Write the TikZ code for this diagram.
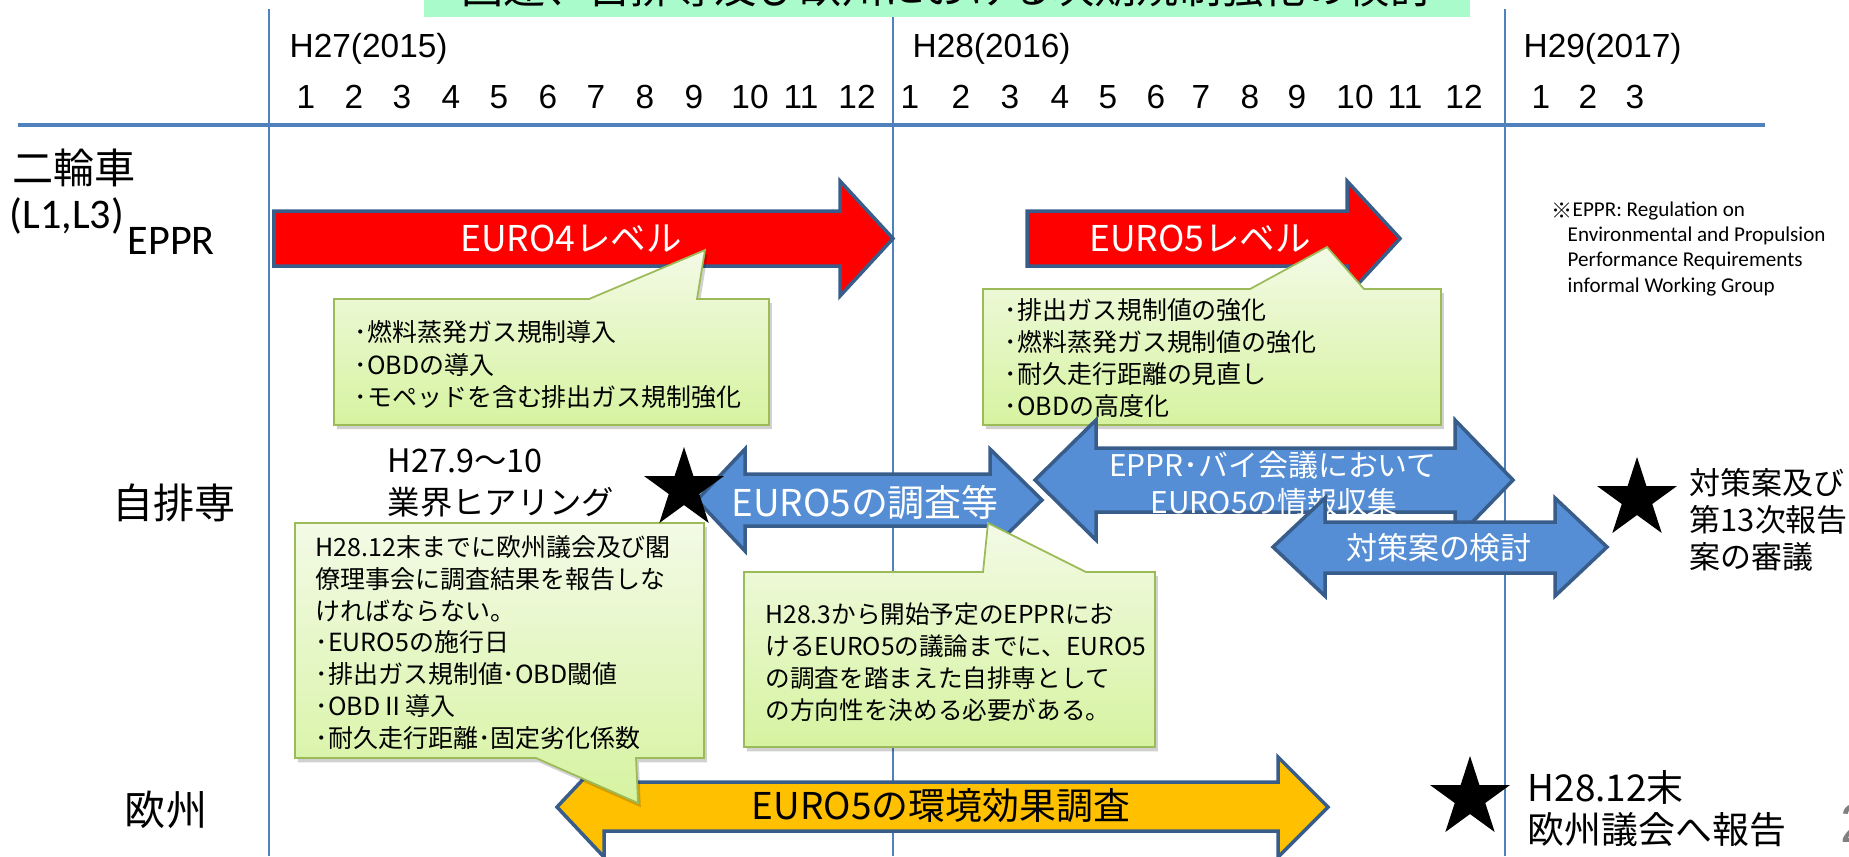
\documentclass[tikz,border=0pt]{standalone}
\usepackage{fontspec}
\setmainfont{Noto Sans CJK JP}
\newfontfamily\arialfont{Liberation Sans}
\newfontfamily\calibrifont{Carlito}
\usetikzlibrary{shapes.geometric,shadows}

\newcommand\fsz[1]{\fontsize{#1}{#1}\selectfont}

\definecolor{gridblue}{RGB}{79,129,189}
\definecolor{bannergreen}{RGB}{169,251,203}
\definecolor{arrowedge}{RGB}{56,93,138}
\definecolor{barblue}{RGB}{85,142,213}
\definecolor{barorange}{RGB}{255,192,0}
\definecolor{speechedge}{RGB}{155,187,89}
\definecolor{speechtop}{RGB}{243,250,230}
\definecolor{speechbottom}{RGB}{214,243,160}

\tikzset{
  gridline/.style={draw=gridblue, line width=0.45pt},
  ruleline/.style={draw=gridblue, line width=1pt},
  block/.style={draw=arrowedge, line width=1pt, line join=miter},
  redbar/.style={block, fill=red},
  bluebar/.style={block, fill=barblue},
  orangebar/.style={block, fill=barorange},
  speech/.style={draw=speechedge, line width=0.5pt, line join=miter,
    top color=speechtop, bottom color=speechbottom,
    drop shadow={shadow xshift=0.8pt, shadow yshift=-1.2pt, fill=black, opacity=0.18}},
  hdr/.style={font=\arialfont\fsz{9.5}, inner sep=0pt},
  rowlabel/.style={font=\fsz{11.7}, inner sep=0pt},
  catfont/.style={font=\calibrifont\fsz{12}, inner sep=0pt, anchor=base west},
  bartext/.style={text=white, inner sep=0pt},
  memo/.style={font=\fsz{7.1}, inner sep=0pt, anchor=west},
  sidetext/.style={inner sep=0pt, anchor=west},
  mark star/.style={star, star points=5, star point ratio=2.62, fill=black,
    inner sep=0pt, minimum size=0.84cm}
}

\begin{document}
\begin{tikzpicture}[x=0.01cm, y=-0.01cm]
\useasboundingbox (0,0) rectangle (1849,856);
\clip (0,0) rectangle (1849,856);

% time grid
\foreach \x in {269,893,1505}
  \draw [gridline] (\x,9) -- (\x,856);
\draw [ruleline] (18,125) -- (1765,125);

% title banner (cut at the top)
\fill [bannergreen] (424,-20) rectangle (1470,17);
\node [font=\fsz{12}, anchor=base] (title) at (947,3) {国連、自排専及び欧州における次期規制強化の検討};

% years and months
\node [hdr, anchor=base west] (y15) at (289,57) {H27(2015)};
\node [hdr, anchor=base west] (y16) at (912,57) {H28(2016)};
\node [hdr, anchor=base west] (y17) at (1523,57) {H29(2017)};
\foreach \x [count=\m] in {306,354,402,451,499,548,596,645,694,750,801,857}
  \node [hdr, anchor=base] (m15-\m) at (\x,108) {\m};
\foreach \x [count=\m] in {910,961,1010,1060,1108,1156,1201,1250,1297,1355,1405,1464}
  \node [hdr, anchor=base] (m16-\m) at (\x,108) {\m};
\foreach \x [count=\m] in {1541,1588,1635}
  \node [hdr, anchor=base] (m17-\m) at (\x,108) {\m};

% rows
\node [rowlabel] (bike) at (74,168) {二輪車};
\node [catfont] (cls) at (9,228) {(L1,L3)};
\node [catfont] (eppr) at (127,254) {EPPR};
\node [rowlabel] (jiko) at (174,503) {自排専};
\node [rowlabel] (eu) at (166,810) {欧州};

% note
\node [sidetext, font=\fsz{6}] (note0) at (1551,211) {※};
\node [sidetext, font=\calibrifont\fsz{6}] (note1) at (1572,211) {EPPR: Regulation on};
\node [sidetext, font=\calibrifont\fsz{6}] (note2) at (1567,236) {Environmental and Propulsion};
\node [sidetext, font=\calibrifont\fsz{6}] (note3) at (1567,261) {Performance Requirements};
\node [sidetext, font=\calibrifont\fsz{6}] (note4) at (1567,287) {informal Working Group};

% EPPR levels
\draw [redbar] (274,211) -- (840,211) -- (840,181) -- (893,238.5) -- (840,296) -- (840,266) -- (274,266) -- cycle;
\node [bartext, font=\fsz{10.1}] (euro4) at (571,238.5) {EURO4レベル};
\draw [redbar] (1027,211) -- (1347,211) -- (1347,181) -- (1400,238.5) -- (1347,296) -- (1347,266) -- (1027,266) -- cycle;
\node [bartext, font=\fsz{10.1}] (euro5) at (1200,238.5) {EURO5レベル};

\draw [speech] (334,299) -- (589,299) -- (705,250) -- (697,299) -- (769,299) -- (769,425) -- (334,425) -- cycle;
\foreach \t [count=\i] in {･燃料蒸発ガス規制導入,･OBDの導入,･モペッドを含む排出ガス規制強化}
  \node [memo] (e4note-\i) at (354,{332+32.5*(\i-1)}) {\t};
\draw [speech] (983,289) -- (1250,289) -- (1327,247) -- (1364,289) -- (1441,289) -- (1441,425) -- (983,425) -- cycle;
\foreach \t [count=\i] in {･排出ガス規制値の強化,･燃料蒸発ガス規制値の強化,･耐久走行距離の見直し,･OBDの高度化}
  \node [memo] (e5note-\i) at (1004,{310+31.9*(\i-1)}) {\t};

% 自排専
\node [sidetext, font=\fsz{9.2}] (hear1) at (387,461) {H27.9〜10};
\node [sidetext, font=\fsz{9.2}] (hear2) at (387,502) {業界ヒアリング};
\draw [bluebar] (697,500) -- (745,449) -- (745,474) -- (990,474) -- (990,449) -- (1042,500) -- (990,551) -- (990,526) -- (745,526) -- (745,551) -- cycle;
\node [bartext, font=\fsz{10.5}] (survey) at (865,502) {EURO5の調査等};
\draw [bluebar] (1035,480) -- (1096,420) -- (1096,448) -- (1455,448) -- (1455,420) -- (1513,480) -- (1455,540) -- (1455,512) -- (1096,512) -- (1096,540) -- cycle;
\node [bartext, font=\fsz{8.5}] (meet1) at (1273,465) {EPPR･バイ会議において};
\node [bartext, font=\fsz{8.5}] (meet2) at (1274,502) {EURO5の情報収集};
\draw [bluebar] (1273,547) -- (1325,498) -- (1325,522) -- (1555,522) -- (1555,498) -- (1607,547) -- (1555,596) -- (1555,573) -- (1325,573) -- (1325,596) -- cycle;
\node [bartext, font=\fsz{8.8}] (plan) at (1439,548) {対策案の検討};

% 欧州
\draw [orangebar] (557,807) -- (604,757) -- (604,782) -- (1278,782) -- (1278,757) -- (1328,807) -- (1278,857) -- (1278,831) -- (604,831) -- (604,857) -- cycle;
\node [font=\fsz{10.5}, inner sep=0pt] (impact) at (941,806) {EURO5の環境効果調査};

\draw [speech] (295,523) -- (704,523) -- (704,758) -- (636,758) -- (638,803) -- (536,758) -- (295,758) -- cycle;
\foreach \t [count=\i] in {H28.12末までに欧州議会及び閣,僚理事会に調査結果を報告しな,ければならない。,･EURO5の施行日,･排出ガス規制値･OBD閾値,･OBDⅡ導入,･耐久走行距離･固定劣化係数}
  \node [memo] (eunote-\i) at (315,{547+31.8*(\i-1)}) {\t};
\draw [speech] (744,572) -- (983,572) -- (988,523) -- (1086,572) -- (1155,572) -- (1155,747) -- (744,747) -- cycle;
\foreach \t [count=\i] in {H28.3から開始予定のEPPRにお,けるEURO5の議論までに、EURO5,の調査を踏まえた自排専として,の方向性を決める必要がある。}
  \node [memo, font=\fsz{7}] (plannote-\i) at (765,{614+32*(\i-1)}) {\t};

% milestones
\node [mark star] (star1) at (684,489) {};
\node [mark star] (star2) at (1637,499) {};
\foreach \t [count=\i] in {対策案及び,第13次報告,案の審議}
  \node [sidetext, font=\fsz{8.8}] (report-\i) at (1689,{483+37*(\i-1)}) {\t};
\node [mark star] (star3) at (1470,798) {};
\node [sidetext, font=\fsz{10.5}] (eu1) at (1527,787) {H28.12末};
\node [sidetext, font=\fsz{10.5}] (eu2) at (1527,830) {欧州議会へ報告};

\node [sidetext, font=\arialfont\fsz{15.6}, text=gray] (page) at (1840,823) {2};
\end{tikzpicture}
\end{document}
